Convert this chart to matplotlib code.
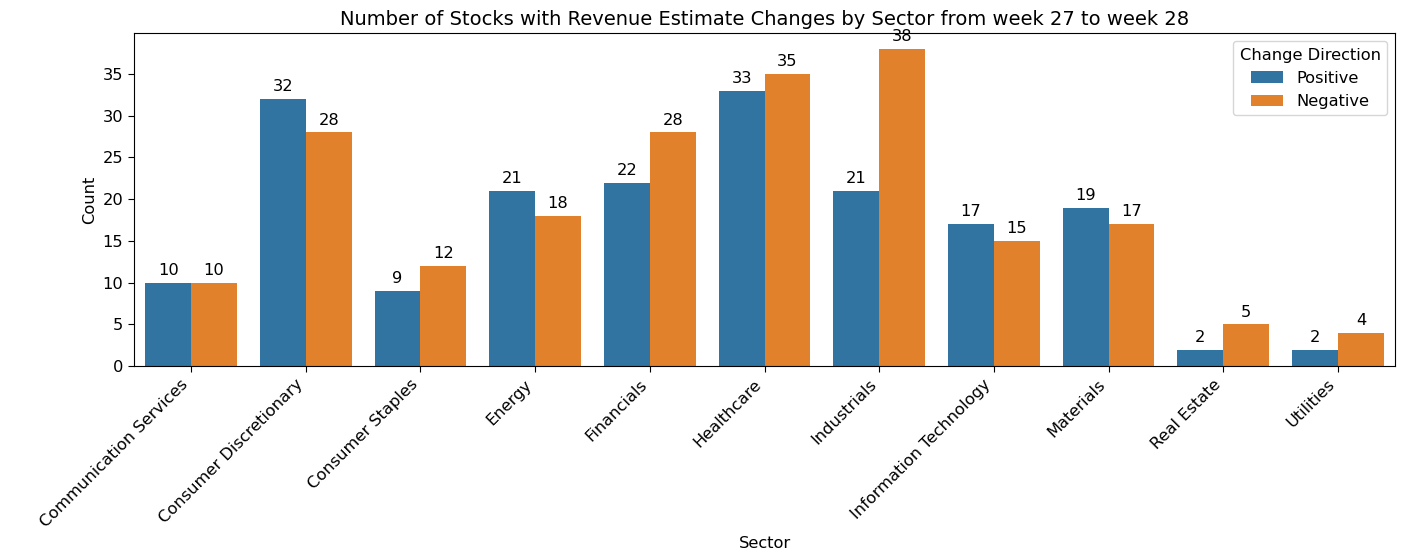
import matplotlib
matplotlib.use("Agg")
import matplotlib.pyplot as plt
import numpy as np

sectors = ["Communication Services", "Consumer Discretionary", "Consumer Staples",
           "Energy", "Financials", "Healthcare", "Industrials",
           "Information Technology", "Materials", "Real Estate", "Utilities"]
positive = [10, 32, 9, 21, 22, 33, 21, 17, 19, 2, 2]
negative = [10, 28, 12, 18, 28, 35, 38, 15, 17, 5, 4]

fs = 11.7
fig = plt.figure(figsize=(14.08, 5.6), dpi=100)
ax = fig.add_axes([0.095, 0.346, 0.896, 0.595])

x = np.arange(len(sectors))
w = 0.4
b1 = ax.bar(x - w / 2, positive, w, color="#3274a1", label="Positive")
b2 = ax.bar(x + w / 2, negative, w, color="#e1812c", label="Negative")
ax.bar_label(b1, padding=3.5, fontsize=fs)
ax.bar_label(b2, padding=3.5, fontsize=fs)

ax.set_xlim(-0.5, len(sectors) - 0.5)
ax.set_ylim(0, 39.9)
ax.set_xticks(x)
ax.set_xticklabels(sectors, rotation=45, ha="right", fontsize=fs)
ax.set_yticks(range(0, 36, 5))
ax.tick_params(axis="y", labelsize=fs, length=4.1)
ax.tick_params(axis="x", length=4.1)
ax.set_xlabel("Sector", fontsize=fs)
ax.set_ylabel("Count", fontsize=fs)
ax.set_title("Number of Stocks with Revenue Estimate Changes by Sector from week 27 to week 28",
             fontsize=14)
ax.legend(title="Change Direction", loc="upper right", fontsize=fs, title_fontsize=fs)

fig.savefig("out.png", dpi=100)
